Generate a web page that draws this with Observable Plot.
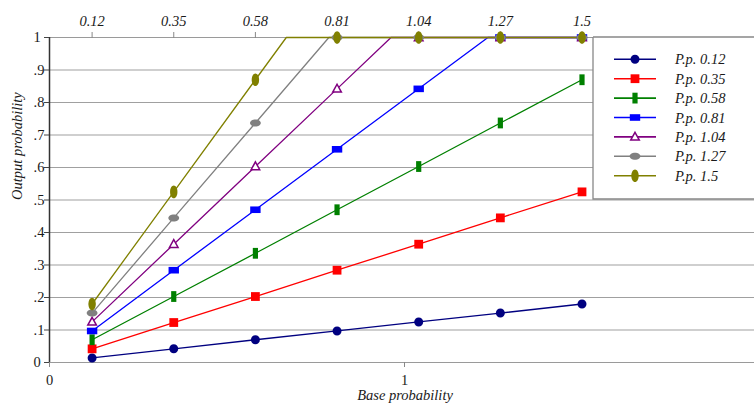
<!DOCTYPE html>
<html>
<head>
<meta charset="utf-8">
<script src="https://cdn.jsdelivr.net/npm/d3@7"></script>
<script src="https://cdn.jsdelivr.net/npm/@observablehq/plot@0.6"></script>
<style>
  html, body { margin: 0; padding: 0; background: #fff; }
  #chart { width: 754px; height: 404px; }
</style>
</head>
<body>
<div id="chart"></div>
<script>
// ---- Data ----
const basePoints = [0.12, 0.35, 0.58, 0.81, 1.04, 1.27, 1.5];
const topTickLabels = ["0.12", "0.35", "0.58", "0.81", "1.04", "1.27", "1.5"];
const seriesNames = ["P.p. 0.12", "P.p. 0.35", "P.p. 0.58", "P.p. 0.81", "P.p. 1.04", "P.p. 1.27", "P.p. 1.5"];
const pp012 = [0.014, 0.042, 0.070, 0.097, 0.125, 0.152, 0.180];
const pp035 = [0.042, 0.123, 0.203, 0.284, 0.364, 0.445, 0.525];
const pp058 = [0.070, 0.203, 0.336, 0.470, 0.603, 0.737, 0.870];
const pp081 = [0.097, 0.284, 0.470, 0.656, 0.842, 1.000, 1.000];
const pp104 = [0.125, 0.364, 0.603, 0.842, 1.000, 1.000, 1.000];
const pp127 = [0.152, 0.445, 0.737, 1.000, 1.000, 1.000, 1.000];
const pp150 = [0.180, 0.525, 0.870, 1.000, 1.000, 1.000, 1.000];
// x where each line reaches the cap of 1 (line bends there; no marker)
const capX = [null, null, null, 1.235, 0.962, 0.787, 0.667];
const yTicks = [0, 0.1, 0.2, 0.3, 0.4, 0.5, 0.6, 0.7, 0.8, 0.9, 1];
const yTickLabels = ["0", ".1", ".2", ".3", ".4", ".5", ".6", ".7", ".8", ".9", "1"];
const bottomTicks = [0, 1];
const bottomTickLabels = ["0", "1"];
const colors = ["#000080", "#ff0000", "#008000", "#0000ff", "#800080", "#808080", "#808000"];

const seriesValues = [pp012, pp035, pp058, pp081, pp104, pp127, pp150];

// ---- Marker shapes ----
function ellipse(rx, ry) {
  return {draw(c) {
    const kx = rx * 0.5523, ky = ry * 0.5523;
    c.moveTo(rx, 0);
    c.bezierCurveTo(rx, ky, kx, ry, 0, ry);
    c.bezierCurveTo(-kx, ry, -rx, ky, -rx, 0);
    c.bezierCurveTo(-rx, -ky, -kx, -ry, 0, -ry);
    c.bezierCurveTo(kx, -ry, rx, -ky, rx, 0);
    c.closePath();
  }};
}
function box(w, h) {
  return {draw(c) { c.moveTo(-w/2, -h/2); c.lineTo(w/2, -h/2); c.lineTo(w/2, h/2); c.lineTo(-w/2, h/2); c.closePath(); }};
}
const triangle = {draw(c) { c.moveTo(0, -4.6); c.lineTo(4.3, 3.2); c.lineTo(-4.3, 3.2); c.closePath(); }};
const symbols = [ellipse(4.5, 4.5), box(8.8, 8.8), box(5.2, 10.8), box(10.4, 6.6), triangle, ellipse(5.4, 3.5), ellipse(3.7, 6.3)];
const hollow = [false, false, false, false, true, false, false];

// ---- Tables ----
const points = [];
const lines = [];
seriesNames.forEach((name, i) => {
  const vals = seriesValues[i];
  const pts = basePoints.map((x, j) => ({series: name, x, y: vals[j]}));
  points.push(...pts);
  const lp = pts.slice();
  if (capX[i] != null) lp.push({series: name, x: capX[i], y: 1});
  lp.sort((a, b) => a.x - b.x);
  lines.push(...lp);
});

const W = 754, H = 404;
const mL = 49, mR = 0, mT = 37, mB = 42;
const xMax = (W - mL - mR) / 355;
const serif = "'Liberation Serif', 'Times New Roman', serif";
const ink = "#1a1a1a";

const marks = [
  Plot.ruleY(yTicks.filter(v => v > 0 && v < 1), {y: d => d, stroke: "#a0a0a0", strokeWidth: 1.2}),
  Plot.ruleY([0, 1], {stroke: "#9a9a9a", strokeWidth: 1.2}),
  Plot.ruleX([0], {stroke: "#333", strokeWidth: 1.5}),
  Plot.axisY(yTicks, {anchor: "left", tickSize: 5, tickPadding: 11, textAnchor: "start",
    tickFormat: (d, i) => yTickLabels[i], stroke: "#444", fill: ink, fontSize: 14.5, fontFamily: serif, label: null}),
  Plot.axisX(basePoints, {anchor: "top", tickSize: 6, tickPadding: 6,
    tickFormat: (d, i) => topTickLabels[i], stroke: "#888", fill: ink, fontSize: 14.5, fontStyle: "italic", fontFamily: serif, label: null}),
  Plot.axisX(bottomTicks, {anchor: "bottom", tickSize: 5, tickPadding: 7,
    tickFormat: (d, i) => bottomTickLabels[i], stroke: "#888", fill: ink, fontSize: 14.5, fontFamily: serif, label: null}),
  Plot.text(["Base probability"], {frameAnchor: "bottom", lineAnchor: "middle", dx: 3, dy: 33, fill: ink, fontSize: 14.5, fontStyle: "italic", fontFamily: serif}),
  Plot.text(["Output probability"], {frameAnchor: "left", lineAnchor: "middle", dx: -32, rotate: -90, fill: ink, fontSize: 14.5, fontStyle: "italic", fontFamily: serif}),
];
seriesNames.forEach((name, i) => {
  marks.push(Plot.line(lines.filter(d => d.series === name), {x: "x", y: "y", stroke: colors[i], strokeWidth: 1.3}));
});
seriesNames.forEach((name, i) => {
  marks.push(Plot.dot(points.filter(d => d.series === name), {x: "x", y: "y", symbol: symbols[i],
    fill: hollow[i] ? "white" : colors[i], stroke: hollow[i] ? colors[i] : "none", strokeWidth: 1.5}));
});

const svg = Plot.plot({
  width: W, height: H,
  marginLeft: mL, marginRight: mR, marginTop: mT, marginBottom: mB,
  style: {background: "white", color: ink, overflow: "visible"},
  x: {domain: [0, xMax], label: null},
  y: {domain: [0, 1], label: null},
  marks
});

// ---- Legend (inside plot area, top-right) ----
const g = d3.select(svg).append("g");
const lx = 593, ly = 37, lw = W - lx, lh = 162;
g.append("rect").attr("x", lx).attr("y", ly).attr("width", lw).attr("height", lh).attr("fill", "white");
g.append("path").attr("d", `M${lx},${ly}H${W}M${lx},${ly}V${ly + lh}H${W}`).attr("fill", "none").attr("stroke", "#888").attr("stroke-width", 1.3);
seriesNames.forEach((name, i) => {
  const cy = 59.3 + i * 19.4;
  g.append("line").attr("x1", 614).attr("x2", 656).attr("y1", cy).attr("y2", cy).attr("stroke", colors[i]).attr("stroke-width", 1.6);
  const p = d3.path(); symbols[i].draw(p);
  g.append("path").attr("d", p.toString()).attr("transform", `translate(635,${cy})`)
    .attr("fill", hollow[i] ? "white" : colors[i]).attr("stroke", hollow[i] ? colors[i] : "none").attr("stroke-width", 1.5);
  g.append("text").attr("x", 675).attr("y", cy).attr("dy", "0.35em").attr("fill", ink)
    .attr("text-anchor", "start")
    .attr("font-family", serif).attr("font-size", 14.5).attr("font-style", "italic").text(name);
});

document.getElementById("chart").appendChild(svg);
</script>
</body>
</html>
